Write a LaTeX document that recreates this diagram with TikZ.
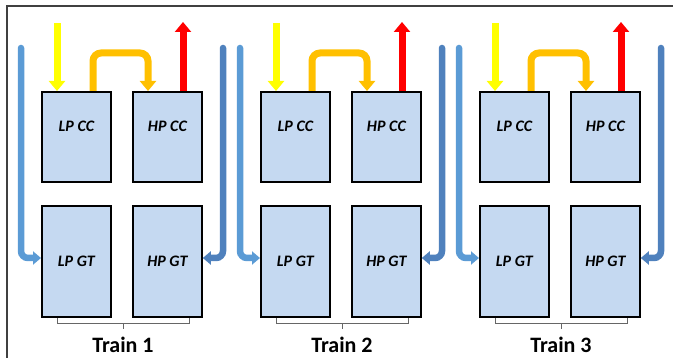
\documentclass[tikz,border=0pt]{standalone}
\usepackage{fontspec}
\setmainfont{Carlito}
\usetikzlibrary{arrows.meta}
\definecolor{boxfill}{HTML}{C5D9F1}
\definecolor{bluelight}{HTML}{5B9BD5}
\definecolor{bluedark}{HTML}{4F81BD}
\definecolor{yel}{HTML}{FFFF00}
\definecolor{ora}{HTML}{FFC000}
\definecolor{redc}{HTML}{FF0000}
\definecolor{framec}{HTML}{404040}
\begin{document}
\begin{tikzpicture}[x=1pt,y=-1pt,
  unit/.style={draw=black,line width=1.8pt,line join=miter,fill=boxfill,minimum width=69pt,inner sep=0pt,anchor=north west,font=\fontsize{16}{18}\selectfont\bfseries\itshape},
  ccbox/.style={unit,minimum height=90pt,text height=10pt,text depth=21pt},
  gtbox/.style={unit,minimum height=111pt},
  bigarrow/.style={line width=7pt,-{Triangle[width=16pt,length=10pt]}},
  bluearrow/.style={line width=6.5pt,rounded corners=7pt,-{Triangle[width=13pt,length=8pt]}},
  bracec/.style={draw=gray!80!black,line width=1pt},
  trainlbl/.style={font=\fontsize{22}{24}\selectfont\bfseries}]
\useasboundingbox (0,0) rectangle (673,358);
\draw[framec,line width=1.2pt] (673,6) -- (7,6) -- (7,358);
\foreach \i/\dx in {1/0,2/219,3/438}{
  \begin{scope}[xshift=\dx pt]
    \node[ccbox] (lpcc\i) at (41,91) {LP CC};
    \node[ccbox] (hpcc\i) at (132,91) {HP CC};
    \node[gtbox] (lpgt\i) at (41,205) {LP GT};
    \node[gtbox] (hpgt\i) at (132,205) {HP GT};
    \coordinate (yin\i) at (57,23);
    \coordinate (rout\i) at (183,22);
    \coordinate (bl\i) at (21,48);
    \coordinate (br\i) at (223,48);
    \draw[bigarrow,yel] (yin\i) -- (yin\i |- lpcc\i.north);
    \draw[bigarrow,redc] (rout\i |- hpcc\i.north) -- (rout\i);
    \draw[bigarrow,ora,rounded corners=8pt] (93,91) |- (148,53) -- (148,91);
    \draw[bluearrow,bluelight,line cap=round] (bl\i) |- (lpgt\i.west |- 0,258) ;
    \draw[bluearrow,bluedark,line cap=round] (br\i) |- (hpgt\i.east |- 0,258);
    \draw[bracec] (57,318) -- (57,324) -- (189,324) -- (189,318) (123,324) -- (123,329);
    \node[trainlbl] (t\i) at (123,345) {Train \i};
  \end{scope}
}
\end{tikzpicture}
\end{document}
